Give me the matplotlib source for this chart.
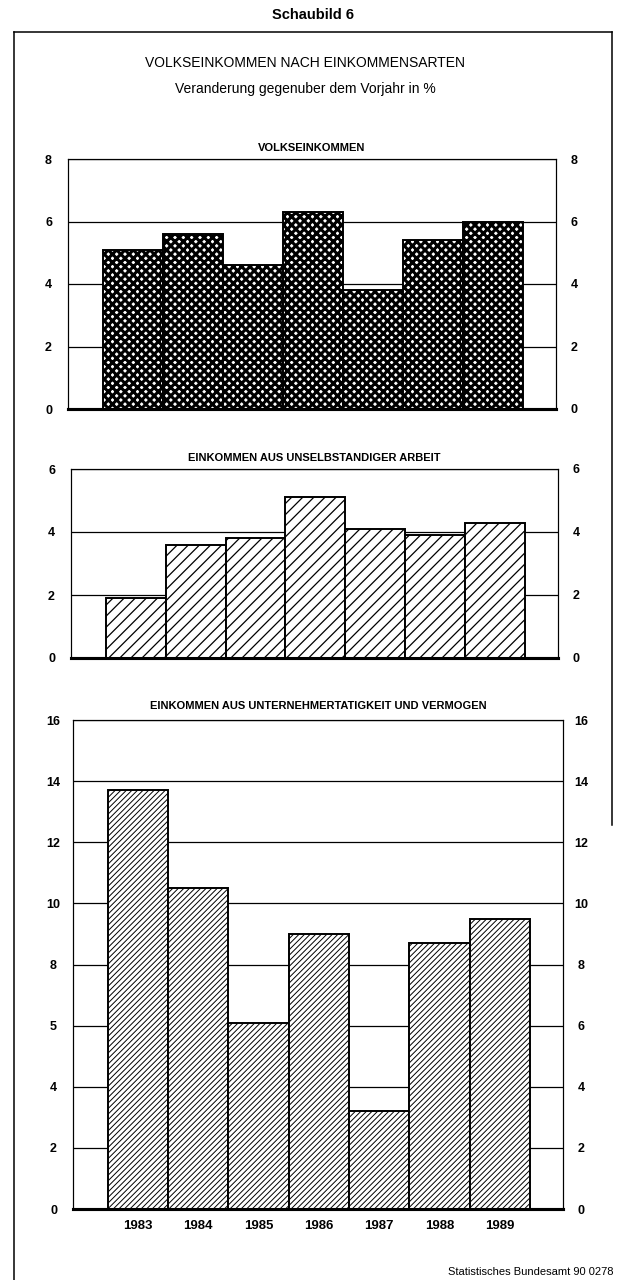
import matplotlib
matplotlib.use("Agg")
import matplotlib.pyplot as plt
from matplotlib import font_manager as fm
from matplotlib.lines import Line2D

# ---- data ----
years = ["1983", "1984", "1985", "1986", "1987", "1988", "1989"]
volkseinkommen = [5.1, 5.6, 4.6, 6.3, 3.8, 5.4, 6.0]
unselbstaendig = [1.9, 3.6, 3.8, 5.1, 4.1, 3.9, 4.3]
unternehmer = [13.7, 10.5, 6.1, 9.0, 3.2, 8.7, 9.5]

panel_titles = ["VOLKSEINKOMMEN",
                "EINKOMMEN AUS UNSELBSTANDIGER ARBEIT",
                "EINKOMMEN AUS UNTERNEHMERTATIGKEIT UND VERMOGEN"]
yticks_1 = [0, 2, 4, 6, 8]
yticks_2 = [0, 2, 4, 6]
yticks_3 = [0, 2, 4, 6, 8, 10, 12, 14, 16]
# the scan shows "5" instead of "6" on the left axis of the bottom panel
ylabels_3_left = ["0", "2", "4", "5", "8", "10", "12", "14", "16"]
ylabels_3_right = ["0", "2", "4", "6", "8", "10", "12", "14", "16"]

names = {f.name for f in fm.fontManager.ttflist}
if "Liberation Sans Narrow" in names:
    FONT = "Liberation Sans Narrow"
elif "Liberation Sans" in names:
    FONT = "Liberation Sans"
else:
    FONT = "DejaVu Sans"
plt.rcParams["font.family"] = [FONT, "DejaVu Sans"]

W, H = 617, 1280
fig = plt.figure(figsize=(W / 100, H / 100), dpi=100)


def frac_axes(x0, y0, x1, y1):
    return fig.add_axes([x0 / W, 1 - y1 / H, (x1 - x0) / W, (y1 - y0) / H])


def panel(rect, values, ymax, ticks, lab_left, lab_right, hatch, hlw, title, tpad):
    ax = frac_axes(*rect)
    xs = list(range(len(values)))
    bars = ax.bar(xs, values, width=1.0, color="white", edgecolor="black",
                  linewidth=1.4, hatch=hatch, zorder=3)
    for b in bars:
        try:
            b.set_hatch_linewidth(hlw)
        except Exception:
            pass
    ax.set_xlim(-1.08, 7.05)
    ax.set_ylim(0, ymax)
    ax.set_yticks(ticks)
    ax.set_yticklabels(lab_left)
    ax.yaxis.grid(True, color="black", linewidth=0.9)
    ax.set_axisbelow(True)
    ax.set_xticks([])
    ax.tick_params(axis="y", length=0, pad=14, labelsize=9)
    for lbl in ax.get_yticklabels():
        lbl.set_horizontalalignment("center")
        lbl.set_fontweight("bold")
    ax2 = ax.twinx()
    ax2.set_ylim(0, ymax)
    ax2.set_yticks(ticks)
    ax2.set_yticklabels(lab_right)
    ax2.tick_params(axis="y", length=0, pad=13, labelsize=9)
    for lbl in ax2.get_yticklabels():
        lbl.set_horizontalalignment("center")
        lbl.set_fontweight("bold")
    for a in (ax, ax2):
        for s in ("top", "left", "right"):
            a.spines[s].set_linewidth(0.8)
        a.spines["bottom"].set_linewidth(2.2)
    ax.set_title(title, fontsize=8, fontweight="bold", pad=tpad)
    return ax


panel((68, 159, 556, 409), volkseinkommen, 8, yticks_1,
      [str(t) for t in yticks_1], [str(t) for t in yticks_1],
      "xxxx", 2.2, panel_titles[0], 6)
panel((71, 469, 558, 658), unselbstaendig, 6, yticks_2,
      [str(t) for t in yticks_2], [str(t) for t in yticks_2],
      "///", 0.9, panel_titles[1], 6)
ax3 = panel((73, 720, 563, 1209), unternehmer, 16, yticks_3,
            ylabels_3_left, ylabels_3_right,
            "//////", 0.7, panel_titles[2], 8)
ax3.set_xticks(range(len(years)))
ax3.set_xticklabels(years, fontsize=9.5, fontweight="bold")
ax3.tick_params(axis="x", length=0, pad=8)

# headings
fig.text(313 / W, 1 - 15 / H, "Schaubild 6", ha="center", va="center",
         fontsize=10.5, fontweight="bold")
fig.text(305 / W, 1 - 63 / H, "VOLKSEINKOMMEN NACH EINKOMMENSARTEN",
         ha="center", va="center", fontsize=10)
fig.text(305 / W, 1 - 89 / H, "Veranderung gegenuber dem Vorjahr in %",
         ha="center", va="center", fontsize=10)
fig.text(613 / W, 1 - 1272 / H, "Statistisches Bundesamt 90 0278",
         ha="right", va="center", fontsize=8)

# page frame (open at the bottom)
fig.add_artist(Line2D([14 / W, 14 / W], [0, 1 - 32 / H], transform=fig.transFigure,
                      color="black", linewidth=1.1))
fig.add_artist(Line2D([14 / W, 612 / W], [1 - 32 / H, 1 - 32 / H],
                      transform=fig.transFigure, color="black", linewidth=1.1))
fig.add_artist(Line2D([612 / W, 612 / W], [1 - 32 / H, 1 - 825 / H],
                      transform=fig.transFigure, color="black", linewidth=1.1))

fig.savefig("out.png", dpi=100)
